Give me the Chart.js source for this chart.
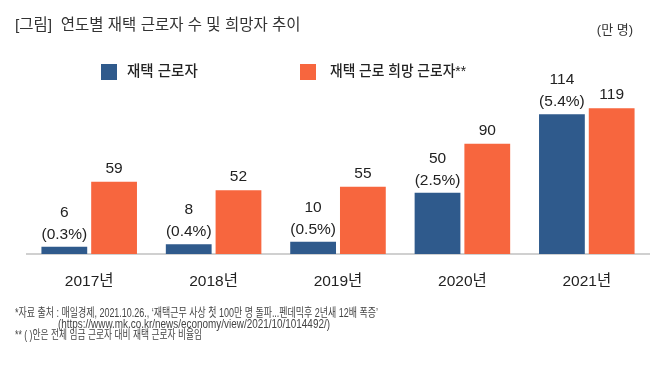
<!DOCTYPE html>
<html lang="ko">
<head>
<meta charset="UTF-8">
<title>연도별 재택 근로자 수 및 희망자 추이</title>
<script src="https://cdn.jsdelivr.net/npm/chart.js"></script>
<style>
  html, body { margin: 0; padding: 0; background: #fff; }
  #wrap { position: relative; width: 661px; height: 370px; }
</style>
</head>
<body>
<div id="wrap"><canvas id="chart"></canvas></div>

<script>
// data
const years = ["2017년", "2018년", "2019년", "2020년", "2021년"];
const workers = [6, 8, 10, 50, 114];
const workerShare = ["(0.3%)", "(0.4%)", "(0.5%)", "(2.5%)", "(5.4%)"];
const hopefuls = [59, 52, 55, 90, 119];
const seriesNames = ["재택 근로자", "재택 근로 희망 근로자**"];

const title = "[그림]  연도별 재택 근로자 수 및 희망자 추이";
const unit = "(만 명)";
const notes = [
    "*자료 출처 : 매일경제, 2021.10.26., ‘재택근무 사상 첫 100만 명 돌파...펜데믹후 2년새 12배 폭증’",
    "(https://www.mk.co.kr/news/economy/view/2021/10/1014492/)",
    "** ( )안은 전체 임금 근로자 대비 재택 근로자 비율임"
];

const BLUE = "#2f5a8c";
const ORANGE = "#f7663e";
const FONT = '"Liberation Sans", "Noto Sans CJK KR", sans-serif';

// draws title, legend, value labels and notes on the canvas
const extras = {
    id: "extras",
    afterDatasetsDraw(chart) {
        const c = chart.ctx;
        c.save();
        c.textBaseline = "middle";

        c.fillStyle = "#333";
        c.textAlign = "left";
        c.font = "15.5px " + FONT;
        c.fillText(title, 15, 26);

        c.font = "13px " + FONT;
        c.textAlign = "right";
        c.fillText(unit, 633, 30);

        // legend
        c.textAlign = "left";
        c.font = "500 14.5px " + FONT;
        c.fillStyle = BLUE;
        c.fillRect(101, 64, 16, 16);
        c.fillStyle = ORANGE;
        c.fillRect(300, 64, 16, 16);
        c.fillStyle = "#222";
        c.fillText(seriesNames[0], 127, 72);
        c.fillText(seriesNames[1], 330, 72, 136);

        // value labels
        c.textAlign = "center";
        c.textBaseline = "alphabetic";
        c.font = "15.5px " + FONT;
        c.fillStyle = "#222";
        chart.getDatasetMeta(0).data.forEach((bar, i) => {
            c.fillText(String(workers[i]), bar.x, bar.y - 30);
            c.fillText(workerShare[i], bar.x, bar.y - 8);
        });
        chart.getDatasetMeta(1).data.forEach((bar, i) => {
            c.fillText(String(hopefuls[i]), bar.x, bar.y - 9);
        });

        // notes
        c.textAlign = "left";
        c.textBaseline = "middle";
        c.font = "12px " + FONT;
        c.fillStyle = "#444";
        c.fillText(notes[0], 15, 314, 363);
        c.fillText(notes[1], 58, 325, 272);
        c.fillText(notes[2], 15, 336, 187);
        c.restore();
    }
};

new Chart(document.getElementById("chart"), {
    type: "bar",
    data: {
        labels: years,
        datasets: [
            { label: seriesNames[0], data: workers, backgroundColor: BLUE },
            { label: seriesNames[1], data: hopefuls, backgroundColor: ORANGE }
        ]
    },
    options: {
        responsive: true,
        maintainAspectRatio: false,
        animation: false,
        categoryPercentage: 0.8,
        barPercentage: 0.92,
        layout: { padding: { left: 27, right: 12, top: 107, bottom: 80 } },
        plugins: {
            legend: { display: false },
            tooltip: { enabled: false }
        },
        scales: {
            x: {
                grid: { display: false },
                border: { display: true, color: "#d0d0d0", width: 2 },
                ticks: { color: "#222", font: { family: FONT, size: 15.5 }, padding: 10 },
                afterFit(scale) { scale.height = 36; }
            },
            y: {
                display: false,
                min: 0,
                max: 120
            }
        }
    },
    plugins: [extras]
});
</script>
</body>
</html>
